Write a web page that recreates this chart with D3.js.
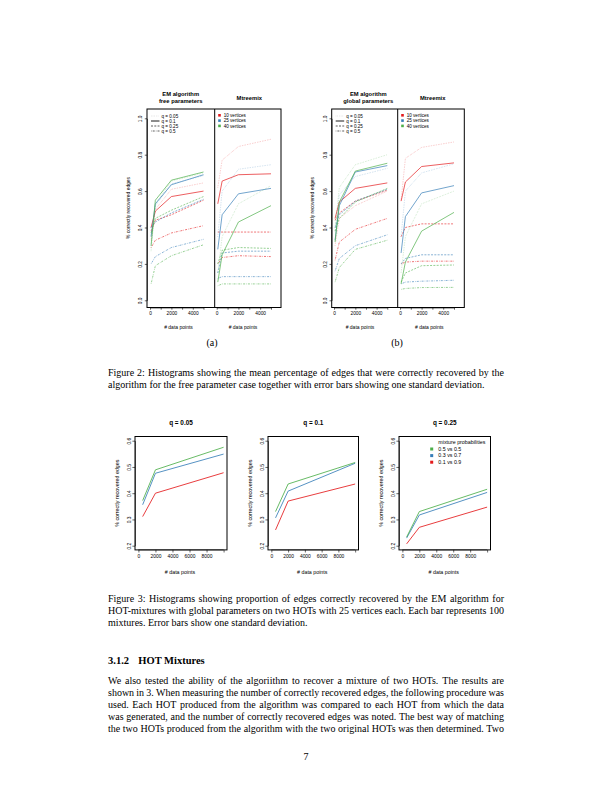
<!DOCTYPE html>
<html><head><meta charset="utf-8">
<script src="https://cdn.jsdelivr.net/npm/d3@7"></script>
<style>body{margin:0;background:#fff}svg{display:block}</style>
</head><body>
<svg id="page" width="612" height="792"></svg>
<script>
// ---------------- DATA ----------------
const xsTop = [100, 500, 2000, 5000];
const qLabels = ["q = 0.05", "q = 0.1", "q = 0.25", "q = 0.5"];
const vertexLabels = ["10 vertices", "25 vertices", "40 vertices"];
const yTicksTop = [0, 0.2, 0.4, 0.6, 0.8, 1.0];
const xTicksTop = [0, 1000, 2000, 3000, 4000, 5000];
const xTickLabelsTop = ["0", "", "2000", "", "4000", ""];

// rows: q = 0.05, 0.1, 0.25, 0.5 ; columns: xsTop
const emFreeRed   = [[0.33,0.50,0.61,0.645],[0.40,0.49,0.57,0.60],[0.38,0.44,0.47,0.55],[0.29,0.33,0.37,0.41]];
const emFreeBlue  = [[0.30,0.52,0.64,0.685],[0.35,0.53,0.635,0.69],[0.40,0.43,0.48,0.555],[0.20,0.24,0.29,0.335]];
const emFreeGreen = [[0.27,0.53,0.655,0.70],[0.30,0.55,0.66,0.705],[0.37,0.45,0.495,0.57],[0.09,0.19,0.245,0.305]];

const mtARed   = [[0.62,0.77,0.845,0.885],[0.53,0.655,0.69,0.695],[0.375,0.375,0.375,0.375],[0.20,0.235,0.245,0.24]];
const mtABlue  = [[0.35,0.60,0.72,0.745],[0.28,0.47,0.585,0.615],[0.15,0.26,0.27,0.27],[0.12,0.13,0.13,0.13]];
const mtAGreen = [[0.15,0.35,0.53,0.63],[0.10,0.25,0.43,0.52],[0.20,0.275,0.29,0.285],[0.08,0.09,0.09,0.09]];

const emGlobRed   = [[0.30,0.45,0.52,0.60],[0.45,0.54,0.615,0.645],[0.44,0.48,0.545,0.605],[0.22,0.32,0.39,0.45]];
const emGlobBlue  = [[0.38,0.58,0.68,0.725],[0.33,0.52,0.705,0.74],[0.40,0.47,0.545,0.61],[0.16,0.23,0.30,0.36]];
const emGlobGreen = [[0.40,0.62,0.745,0.80],[0.32,0.54,0.71,0.753],[0.38,0.45,0.54,0.615],[0.10,0.18,0.28,0.33]];

const mtBRed   = [[0.55,0.78,0.84,0.87],[0.545,0.65,0.735,0.755],[0.35,0.40,0.42,0.42],[0.20,0.21,0.215,0.215]];
const mtBBlue  = [[0.35,0.60,0.70,0.75],[0.26,0.46,0.59,0.63],[0.20,0.23,0.25,0.25],[0.09,0.10,0.105,0.11]];
const mtBGreen = [[0.15,0.35,0.53,0.60],[0.09,0.21,0.38,0.483],[0.10,0.15,0.19,0.194],[0.06,0.065,0.07,0.071]];

const xsFig3 = [500, 2000, 10000];
const xTicksFig3 = [0, 2000, 4000, 6000, 8000, 10000];
const xTickLabelsFig3 = ["0", "2000", "4000", "6000", "8000", ""];
const yTicksFig3 = [0.2, 0.3, 0.4, 0.5, 0.6];
const mixLabels = ["0.5 vs 0.5", "0.3 vs 0.7", "0.1 vs 0.9"];
const fig3Titles = ["q = 0.05", "q = 0.1", "q = 0.25"];
// order: green (0.5 vs 0.5), blue (0.3 vs 0.7), red (0.1 vs 0.9)
const f3q005 = [[0.372,0.489,0.575],[0.356,0.476,0.549],[0.311,0.40,0.478]];
const f3q01  = [[0.33,0.435,0.517],[0.306,0.408,0.514],[0.26,0.37,0.435]];
const f3q025 = [[0.233,0.33,0.415],[0.229,0.317,0.403],[0.207,0.27,0.347]];

// ---------------- STYLE ----------------
const RED = "#E41A1C", BLUE = "#377EB8", GREEN = "#4DAF4A";
const sans = "'Liberation Sans', Arial, Helvetica, sans-serif";
const serif = "'Liberation Serif', 'Times New Roman', Times, serif";
const qDash = ["0.6,1.1", null, "2,1.3", "0.6,1.1,2,1.1"];
const qOpacity = [0.5, 1, 0.85, 0.85];

const svg = d3.select("#page");

// ---------------- TOP FIGURES ----------------
const yTop = d3.scaleLinear().domain([0, 1]).range([300.3, 118.3]);
const topBoxTop = 109, topBoxBottom = 307.5;

function styleAxis(g, size) {
  g.selectAll("path.domain").attr("stroke", "#000").attr("stroke-width", 0.6);
  g.selectAll(".tick line").attr("stroke", "#000").attr("stroke-width", 0.6);
  g.selectAll(".tick text").attr("font-family", sans).attr("font-size", size).attr("fill", "#000");
}

function drawTopPanel(p) {
  const x = d3.scaleLinear().domain([0, 5000]).range([p.x0, p.x5]);
  const g = svg.append("g");
  const line = d3.line().x(d => x(d[0])).y(d => yTop(d[1]));
  [[p.red, RED], [p.blue, BLUE], [p.green, GREEN]].forEach(([ser, col]) => {
    ser.forEach((vals, qi) => {
      g.append("path")
        .datum(xsTop.map((xv, i) => [xv, vals[i]]))
        .attr("d", line)
        .attr("fill", "none")
        .attr("stroke", col)
        .attr("stroke-width", 0.7)
        .attr("stroke-opacity", qOpacity[qi])
        .attr("stroke-dasharray", qDash[qi]);
    });
  });
  const ax = g.append("g").attr("transform", `translate(0,${topBoxBottom})`)
    .call(d3.axisBottom(x).tickValues(xTicksTop).tickFormat((d, i) => xTickLabelsTop[i]).tickSize(2.2).tickSizeOuter(0).tickPadding(1.5));
  styleAxis(ax, 4.8);
  svg.append("text").attr("x", p.xlab).attr("y", 328.8).attr("text-anchor", "middle")
    .attr("font-family", sans).attr("font-size", 5).text("# data points");

  if (p.yaxis) {
    const ay = g.append("g").attr("transform", `translate(${p.boxL},0)`)
      .call(d3.axisLeft(yTop).tickValues(yTicksTop).tickFormat(d3.format(".1f")).tickSize(2.2).tickSizeOuter(0));
    styleAxis(ay, 4.8);
    ay.selectAll(".tick text").attr("transform", "rotate(-90)").attr("x", 0).attr("y", -4.6).attr("dy", 0).attr("text-anchor", "middle");
    svg.append("text").attr("transform", `translate(${p.boxL - 17.5},208) rotate(-90)`).attr("text-anchor", "middle")
      .attr("font-family", sans).attr("font-size", 4.9).text("% correctly recovered edges");
  }
  // legend
  if (p.legend === "q") {
    qLabels.forEach((lab, i) => {
      const yy = 116 + i * 5;
      g.append("line").attr("x1", p.boxL + 4).attr("x2", p.boxL + 12.5).attr("y1", yy).attr("y2", yy)
        .attr("stroke", i === 0 ? "#999" : "#000").attr("stroke-width", i === 1 ? 0.9 : 0.75)
        .attr("stroke-opacity", qOpacity[i]).attr("stroke-dasharray", qDash[i]);
      g.append("text").attr("x", p.boxL + 14.5).attr("y", yy + 1.6).attr("font-family", sans).attr("font-size", 4.6).text(lab);
    });
  } else {
    [RED, BLUE, GREEN].forEach((c, i) => {
      const yy = 115.3 + i * 5.3;
      g.append("rect").attr("x", p.boxL + 3.5).attr("y", yy - 1.3).attr("width", 2.6).attr("height", 2.6).attr("fill", c);
      g.append("text").attr("x", p.boxL + 9).attr("y", yy + 1.6).attr("font-family", sans).attr("font-size", 4.6).text(vertexLabels[i]);
    });
  }
}

function drawTopFigure(f) {
  drawTopPanel({x0: f.ax0, x5: f.ax5, boxL: f.L, red: f.emRed, blue: f.emBlue, green: f.emGreen, legend: "q", yaxis: true, xlab: f.xlabA});
  drawTopPanel({x0: f.bx0, x5: f.bx5, boxL: f.D, red: f.mtRed, blue: f.mtBlue, green: f.mtGreen, legend: "v", yaxis: false, xlab: f.xlabB});
  svg.append("rect").attr("x", f.L).attr("y", topBoxTop).attr("width", f.R - f.L).attr("height", topBoxBottom - topBoxTop)
    .attr("fill", "none").attr("stroke", "#000").attr("stroke-width", 1);
  svg.append("line").attr("x1", f.D).attr("x2", f.D).attr("y1", topBoxTop).attr("y2", topBoxBottom).attr("stroke", "#000").attr("stroke-width", 1);
  const tl = (txt, x, y) => svg.append("text").attr("x", x).attr("y", y).attr("text-anchor", "middle")
    .attr("font-family", sans).attr("font-weight", "bold").attr("font-size", 5.8).text(txt);
  tl("EM algorithm", f.t1, 96);
  tl(f.sub, f.t1, 103);
  tl("Mtreemix", f.t2, 99.6);
  svg.append("text").attr("x", f.cap).attr("y", 346.3).attr("text-anchor", "middle").attr("font-family", serif).attr("font-size", 10).text(f.capText);
}

drawTopFigure({L: 147, D: 214.7, R: 281, ax0: 150, ax5: 203.5, bx0: 216.7, bx5: 271,
  emRed: emFreeRed, emBlue: emFreeBlue, emGreen: emFreeGreen, mtRed: mtARed, mtBlue: mtABlue, mtGreen: mtAGreen,
  xlabA: 178.5, xlabB: 243, t1: 180.7, t2: 249.3, sub: "free parameters", cap: 212, capText: "(a)"});
drawTopFigure({L: 331.7, D: 397.7, R: 464.3, ax0: 334, ax5: 387.3, bx0: 400, bx5: 454,
  emRed: emGlobRed, emBlue: emGlobBlue, emGreen: emGlobGreen, mtRed: mtBRed, mtBlue: mtBBlue, mtGreen: mtBGreen,
  xlabA: 360, xlabB: 429.3, t1: 368.3, t2: 432.7, sub: "global parameters", cap: 397, capText: "(b)"});

// ---------------- FIGURE 3 ----------------
const y3 = d3.scaleLinear().domain([0.2, 0.6]).range([545.7, 440.7]);
const box3Top = y3(0.616), box3Bottom = y3(0.184);
const charts3 = [
  {L: 135, W: 92, data: f3q005, legend: false},
  {L: 268, W: 90.5, data: f3q01, legend: false},
  {L: 399, W: 91.5, data: f3q025, legend: true}
];
charts3.forEach((c, ci) => {
  const x = d3.scaleLinear().domain([-400, 10400]).range([c.L, c.L + c.W]);
  const g = svg.append("g");
  const line = d3.line().x(d => x(d[0])).y(d => y3(d[1]));
  const cols = [GREEN, BLUE, RED];
  [2, 1, 0].forEach(si => {
    g.append("path").datum(xsFig3.map((xv, i) => [xv, c.data[si][i]]))
      .attr("d", line).attr("fill", "none").attr("stroke", cols[si]).attr("stroke-width", 0.85);
  });
  g.append("rect").attr("x", c.L).attr("y", box3Top).attr("width", c.W).attr("height", box3Bottom - box3Top)
    .attr("fill", "none").attr("stroke", "#000").attr("stroke-width", 1);
  const ax = g.append("g").attr("transform", `translate(0,${box3Bottom})`)
    .call(d3.axisBottom(x).tickValues(xTicksFig3).tickFormat((d, i) => xTickLabelsFig3[i]).tickSize(2.6).tickSizeOuter(0).tickPadding(2.5));
  styleAxis(ax, 4.9);
  ax.select("path.domain").attr("d", `M${x(0)},0H${x(10000)}`);
  const ay = g.append("g").attr("transform", `translate(${c.L},0)`)
    .call(d3.axisLeft(y3).tickValues(yTicksFig3).tickFormat(d3.format(".1f")).tickSize(2.6).tickSizeOuter(0));
  styleAxis(ay, 4.9);
  ay.selectAll(".tick text").attr("transform", "rotate(-90)").attr("x", 0).attr("y", -4.3).attr("dy", 0).attr("text-anchor", "middle");
  const cx = c.L + c.W / 2;
  svg.append("text").attr("x", cx).attr("y", 425.2).attr("text-anchor", "middle").attr("font-family", sans)
    .attr("font-weight", "bold").attr("font-size", 6.4).text(fig3Titles[ci]);
  svg.append("text").attr("x", cx - 1).attr("y", 574.3).attr("text-anchor", "middle").attr("font-family", sans)
    .attr("font-size", 5.3).text("# data points");
  svg.append("text").attr("transform", `translate(${c.L - 16.5},${(box3Top + box3Bottom) / 2}) rotate(-90)`).attr("text-anchor", "middle")
    .attr("font-family", sans).attr("font-size", 5.3).text("% correctly recovered edges");
  if (c.legend) {
    g.append("text").attr("x", 438.3).attr("y", 444).attr("font-family", sans).attr("font-size", 5.3).text("mixture probabilities");
    mixLabels.forEach((lab, i) => {
      const yy = 449 + i * 6.6;
      g.append("rect").attr("x", 430.2).attr("y", yy - 1.5).attr("width", 3).attr("height", 3).attr("fill", cols[i]);
      g.append("text").attr("x", 438.3).attr("y", yy + 1.8).attr("font-family", sans).attr("font-size", 5.3).text(lab);
    });
  }
});

// ---------------- PAGE TEXT ----------------
function textLine(str, x0, y, opts) {
  const t = svg.append("text").attr("y", y).attr("font-family", opts.family || serif)
    .attr("font-size", opts.size || 10).attr("font-weight", opts.weight || "normal").attr("fill", "#000");
  if (!opts.width) { t.attr("x", x0).attr("text-anchor", opts.anchor || "start").text(str); return t; }
  const words = str.split(/\s+/);
  const spans = words.map(w => t.append("tspan").text(w));
  const widths = spans.map(s => s.node().getComputedTextLength());
  const gap = (opts.width - d3.sum(widths)) / (words.length - 1);
  let cx = x0;
  spans.forEach((s, i) => { s.attr("x", cx); cx += widths[i] + gap; });
  return t;
}
const TL = 108, TW = 396;
const fig2Caption = [
  "Figure 2: Histograms showing the mean percentage of edges that were correctly recovered by the",
  "algorithm for the free parameter case together with error bars showing one standard deviation."
];
const fig3Caption = [
  "Figure 3: Histograms showing proportion of edges correctly recovered by the EM algorithm for",
  "HOT-mixtures with global parameters on two HOTs with 25 vertices each. Each bar represents 100",
  "mixtures. Error bars show one standard deviation."
];
const bodyLines = [
  "We also tested the ability of the algoriithm to recover a mixture of two HOTs. The results are",
  "shown in 3. When measuring the number of correctly recovered edges, the following procedure was",
  "used. Each HOT produced from the algorithm was compared to each HOT from which the data",
  "was generated, and the number of correctly recovered edges was noted. The best way of matching",
  "the two HOTs produced from the algorithm with the two original HOTs was then determined. Two"
];
fig2Caption.forEach((l, i) => textLine(l, TL, 376.3 + i * 11.5, {width: i < fig2Caption.length - 1 ? TW : null}));
fig3Caption.forEach((l, i) => textLine(l, TL, 602.3 + i * 11.8, {width: i < fig3Caption.length - 1 ? TW : null}));
textLine("3.1.2", TL, 663.5, {weight: "bold", size: 10.5});
textLine("HOT Mixtures", 138.3, 663.5, {weight: "bold", size: 10.5});
bodyLines.forEach((l, i) => textLine(l, TL, 683.5 + i * 12, {width: TW}));
textLine("7", 306, 760, {anchor: "middle"});
</script>
</body></html>
